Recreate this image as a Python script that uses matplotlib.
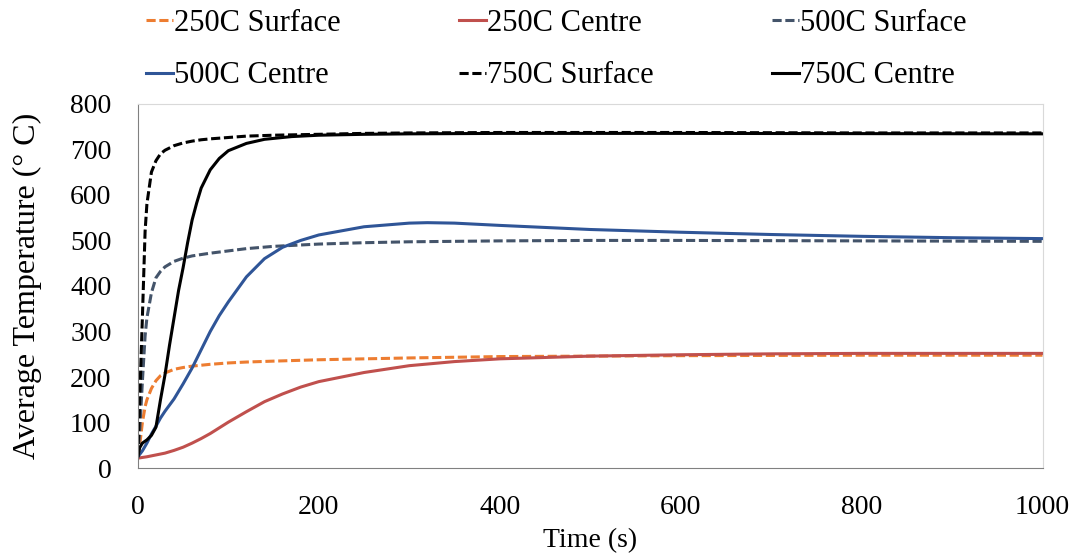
#! /usr/bin/env python3

import matplotlib
matplotlib.use("Agg")
import matplotlib.pyplot as plt

# time (s) and average temperature (deg C)
t_250s = [0, 2, 5, 8, 10, 15, 20, 25, 30, 40, 50, 60, 80, 100, 120, 150, 200, 300, 400, 500, 600, 800, 1000]
T_250s = [25, 50, 100, 135, 150, 175, 192, 203, 209, 217, 221, 224, 228, 231, 233, 235, 238, 242, 245, 246, 247, 248, 248]

t_250c = [0, 10, 20, 30, 40, 50, 60, 70, 80, 100, 120, 140, 160, 180, 200, 250, 300, 350, 400, 500, 600, 700, 800, 1000]
T_250c = [22, 25, 29, 33, 39, 46, 55, 65, 76, 101, 124, 146, 163, 178, 190, 210, 225, 234, 240, 246, 249, 251, 252, 252]

t_500s = [0, 2, 5, 8, 10, 15, 20, 25, 30, 40, 50, 60, 80, 100, 120, 150, 200, 250, 300, 400, 500, 600, 800, 1000]
T_500s = [25, 80, 190, 290, 330, 385, 418, 432, 442, 454, 461, 466, 472, 477, 482, 487, 492, 495, 497, 499, 500, 500, 499, 498]

t_500c = [0, 5, 10, 15, 20, 25, 30, 40, 50, 60, 70, 80, 90, 100, 120, 140, 160, 180, 200, 250, 300, 320, 350, 400, 500, 600, 700, 800, 900, 1000]
T_500c = [25, 38, 55, 75, 92, 110, 125, 152, 185, 220, 260, 300, 335, 365, 420, 460, 485, 500, 512, 530, 538, 539, 538, 533, 524, 518, 513, 509, 506, 504]

t_750s = [0, 2, 5, 8, 10, 15, 20, 25, 30, 40, 50, 60, 70, 80, 100, 120, 150, 200, 250, 300, 400, 600, 800, 1000]
T_750s = [25, 150, 330, 520, 580, 650, 675, 690, 698, 708, 714, 718, 721, 723, 726, 729, 731, 733, 735, 736, 737, 737, 736, 736]

t_750c = [0, 2, 5, 10, 15, 20, 25, 30, 35, 40, 45, 50, 55, 60, 65, 70, 80, 90, 100, 120, 140, 170, 200, 250, 300, 400, 600, 1000]
T_750c = [25, 45, 55, 62, 72, 90, 150, 205, 270, 330, 390, 440, 495, 545, 582, 615, 655, 680, 697, 713, 722, 728, 731, 733, 734, 735, 735, 734]

plt.rcParams['font.family'] = ['Liberation Serif', 'DejaVu Serif']

fig = plt.figure(figsize=(10.77, 5.58), dpi=100)
ax = fig.add_axes([0.128, 0.161, 0.84, 0.653])

dash = (3, 1.2)
lw = 2.2
h1, = ax.plot(t_250s, T_250s, color='#ED7D31', lw=lw, dashes=dash, label='250C Surface')
h2, = ax.plot(t_250c, T_250c, color='#C0504D', lw=lw, label='250C Centre')
h3, = ax.plot(t_500s, T_500s, color='#44546A', lw=lw, dashes=dash, label='500C Surface')
h4, = ax.plot(t_500c, T_500c, color='#2F5597', lw=lw, label='500C Centre')
h5, = ax.plot(t_750s, T_750s, color='black', lw=lw, dashes=dash, label='750C Surface')
h6, = ax.plot(t_750c, T_750c, color='black', lw=lw, label='750C Centre')

ax.set_xlim(0, 1000)
ax.set_ylim(0, 800)
ax.set_xticks(range(0, 1001, 200))
ax.set_yticks(range(0, 801, 100))
ax.tick_params(length=0, labelsize=20, pad=19)
ax.set_xlabel('Time (s)', fontsize=20, labelpad=6)
ax.set_ylabel('Average Temperature (° C)', fontsize=23, labelpad=20)

for s in ['left', 'bottom']:
    ax.spines[s].set_color('#808080')
for s in ['top', 'right']:
    ax.spines[s].set_color('#D9D9D9')

# legend is filled column by column, so reorder to read row by row
handles = [h1, h4, h2, h5, h3, h6]
fig.legend(handles, [h.get_label() for h in handles], ncol=3, loc='upper left',
           bbox_to_anchor=(143 / 1077, 0.99), frameon=False, fontsize=22,
           borderpad=0, borderaxespad=0.1,
           handlelength=0.88, handletextpad=0.03, columnspacing=3.88,
           labelspacing=0.78)

plt.savefig('out.png', dpi=100)
plt.close()
